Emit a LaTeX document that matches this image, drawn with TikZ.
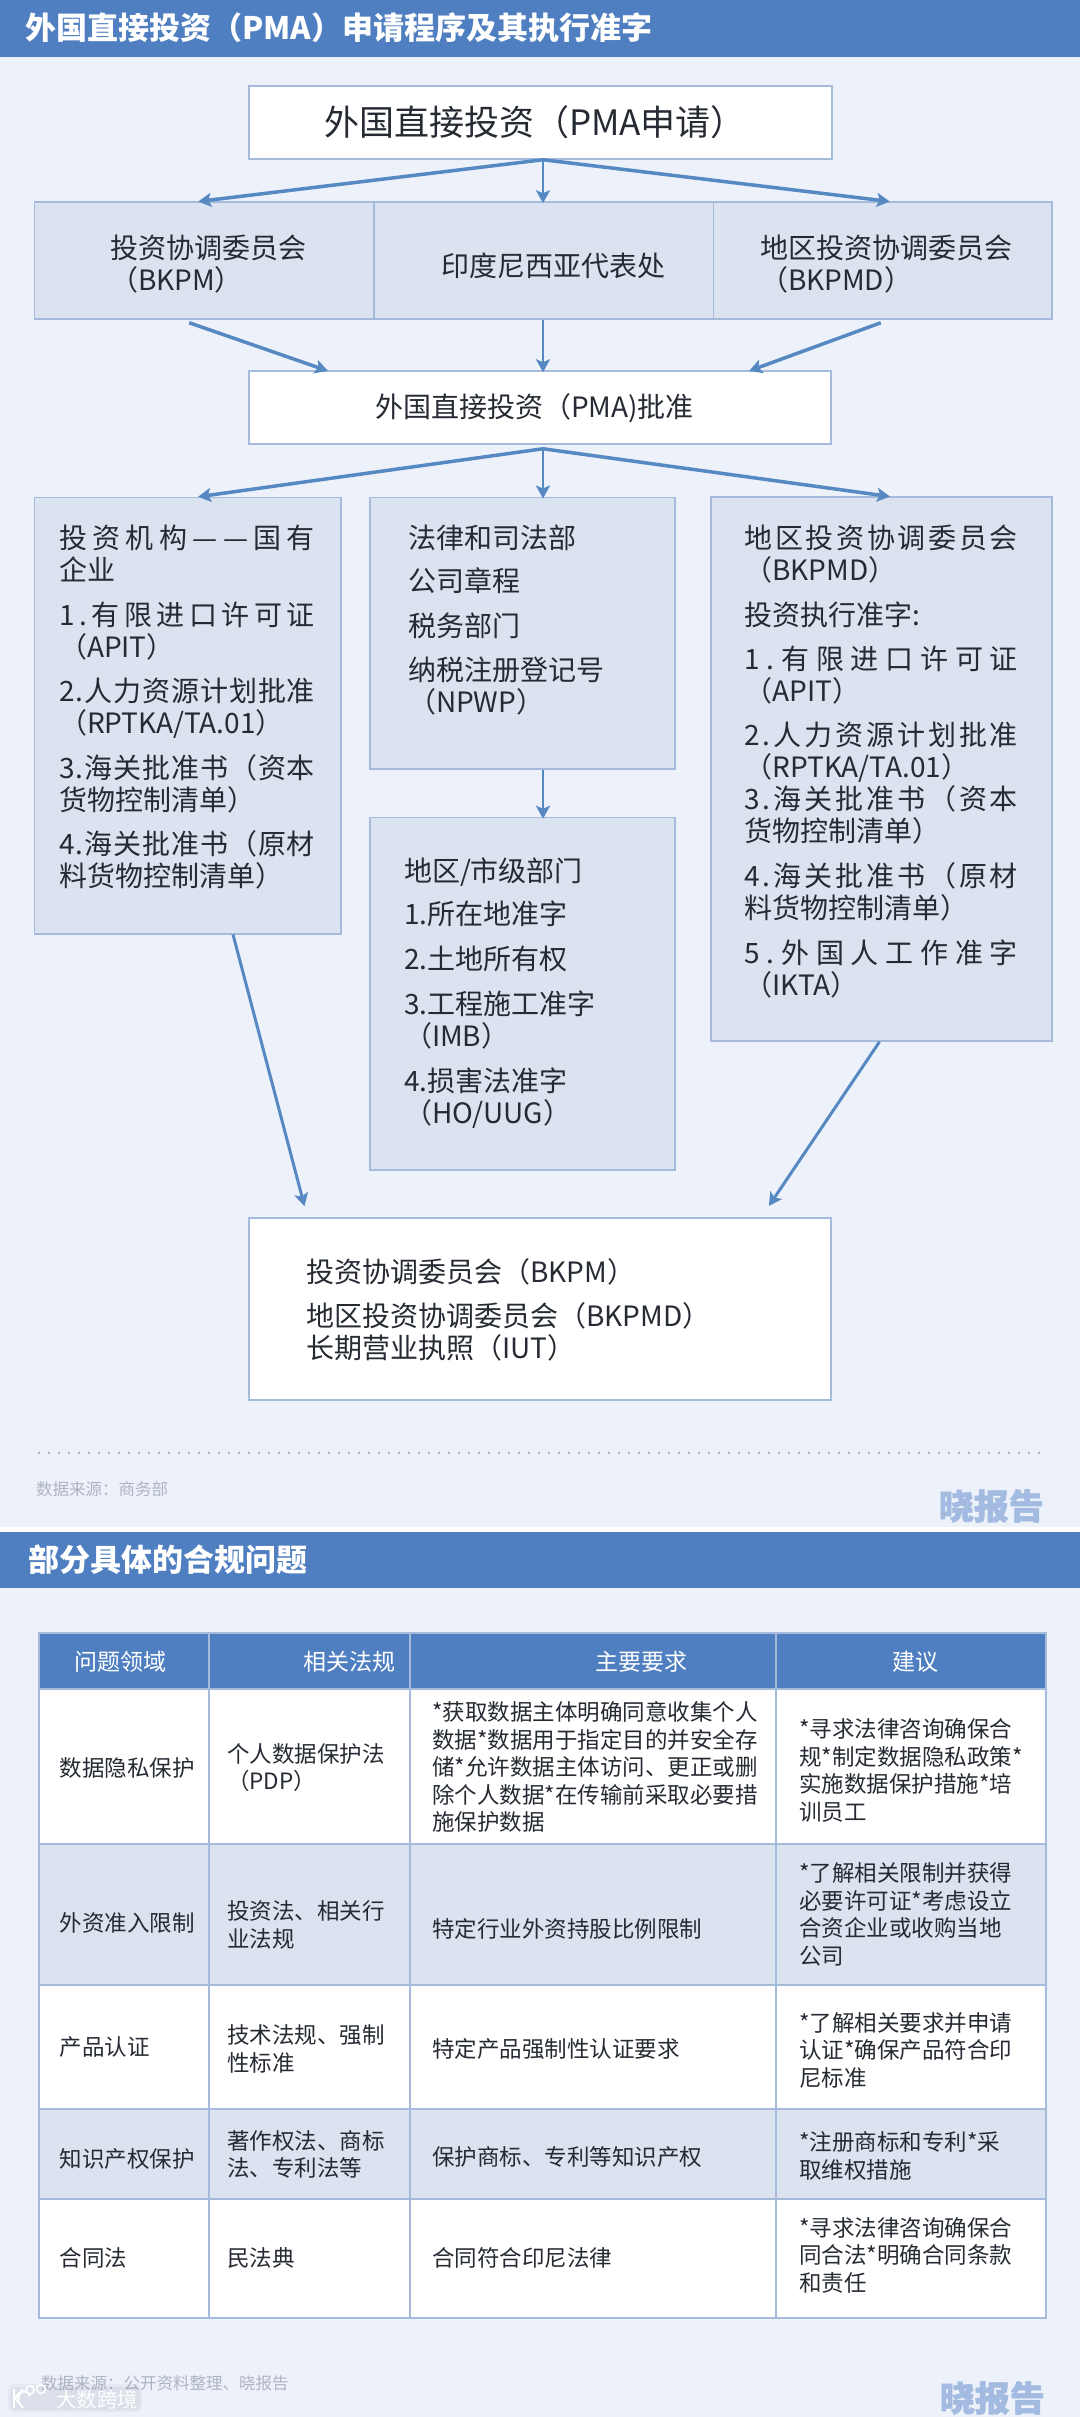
\documentclass[tikz,border=0pt]{standalone}
\usepackage{fontspec}
\setmainfont{Noto Sans CJK SC}
\usetikzlibrary{arrows.meta}
\definecolor{pagebg}{HTML}{EDF1FA}
\definecolor{band}{HTML}{4F7FC0}
\definecolor{cellbg}{HTML}{DBE3F1}
\definecolor{edge}{HTML}{A6BADC}
\definecolor{arrowc}{HTML}{5688C2}
\definecolor{ink}{HTML}{262B33}
\definecolor{srcgray}{HTML}{AEB4C2}
\definecolor{brandc}{HTML}{A3BBE0}
\definecolor{markshade}{HTML}{7C8494}
\newcommand{\fs}[2]{\lineskiplimit=-1000pt\fontsize{#1}{#2}\selectfont}
% spread the characters of a line over a given width
\def\jlA#1{#1\futurelet\jlN\jlB}
\def\jlB{\ifx\jlN\relax\let\jlC\relax\else\hfil\let\jlC\jlA\fi\jlC}
\newcommand{\jl}[2]{\hbox to #1pt{\jlA#2\relax}}
\tikzset{
  x=1pt,y=-1pt,
  whitebox/.style={draw=edge,line width=1.5pt,fill=white,inner sep=0pt,rectangle},
  bluebox/.style={draw=edge,line width=1.5pt,fill=cellbg,inner sep=0pt,rectangle},
  arrowline/.style={draw=arrowc,line width=3.5pt,-{Stealth[length=13pt,width=14pt,inset=3pt]},shorten >=-2pt},
  txt/.style={inner sep=0pt,outer sep=0pt,text=ink,anchor=west,font=\fs{28}{32}},
  block/.style={inner sep=0pt,outer sep=0pt,text=ink,anchor=north west,align=left,font=\fs{28}{32}},
  bandtitle/.style={inner sep=0pt,text=white,anchor=west,font=\fs{31}{36}\bfseries},
  headcell/.style={inner sep=0pt,text=white,font=\fs{23}{27}},
  cell/.style={inner sep=0pt,text=ink,anchor=west,align=left,font=\fs{22.5}{27.5}},
  srctxt/.style={inner sep=0pt,text=srcgray,anchor=west,font=\fs{16.5}{20}},
  brand/.style={inner sep=0pt,text=brandc,anchor=east,font=\fs{35}{38}\bfseries\addfontfeature{FakeBold=1.5}},
}
\begin{document}
\begin{tikzpicture}
\useasboundingbox (0,0) rectangle (1080,2417);
\fill[pagebg] (0,0) rectangle (1080,2417);
% ---------- section bands
\fill[band] (0,0) rectangle (1080,57);
\fill[white] (0,1527) rectangle (1080,1532);
\fill[band] (0,1532) rectangle (1080,1588);
\node[bandtitle] (title1) at (25,28) {外国直接投资（PMA）申请程序及其执行准字};
\node[bandtitle] (title2) at (28,1560) {部分具体的合规问题};
% ---------- flow boxes
\node[whitebox,minimum width=583pt,minimum height=73pt] (apply) at (540.5,122.5) {};
\node[bluebox,minimum width=339.5pt,minimum height=117pt] (bkpm) at (204.25,260.5) {};
\node[bluebox,minimum width=339.5pt,minimum height=117pt] (rep) at (543.75,260.5) {};
\node[bluebox,minimum width=338.5pt,minimum height=117pt] (bkpmd) at (882.75,260.5) {};
\node[whitebox,minimum width=582pt,minimum height=73pt] (approve) at (540,407.5) {};
\node[bluebox,minimum width=306.5pt,minimum height=436.5pt] (soe) at (187.75,715.5) {};
\node[bluebox,minimum width=305pt,minimum height=271.5pt] (legal) at (522.5,633) {};
\node[bluebox,minimum width=305pt,minimum height=352.5pt] (local) at (522.5,993.75) {};
\node[bluebox,minimum width=341pt,minimum height=544pt] (region) at (881.5,769) {};
\node[whitebox,minimum width=582pt,minimum height=182pt] (license) at (540,1309) {};
% ---------- connectors
\draw[arrowline] ([xshift=2.5pt]apply.south) -- ([xshift=-4pt]bkpm.north);
\draw[arrowline,line width=2.5pt] ([xshift=2.5pt]apply.south) -- ([xshift=-0.75pt]rep.north);
\draw[arrowline] ([xshift=2.5pt]apply.south) -- ([xshift=5pt]bkpmd.north);
\draw[arrowline] ([xshift=-15pt,yshift=-3pt]bkpm.south) -- ([xshift=-214pt]approve.north);
\draw[arrowline,line width=2.5pt] ([xshift=-0.75pt]rep.south) -- ([xshift=3pt]approve.north);
\draw[arrowline] ([xshift=-2pt,yshift=-3pt]bkpmd.south) -- ([xshift=211pt]approve.north);
\draw[arrowline] ([xshift=3pt,yshift=-4pt]approve.south) -- ([xshift=12.25pt]soe.north);
\draw[arrowline,line width=2.5pt] ([xshift=3pt,yshift=-4pt]approve.south) -- ([xshift=20.5pt]legal.north);
\draw[arrowline] ([xshift=3pt,yshift=-4pt]approve.south) -- ([xshift=6.5pt]region.north);
\draw[arrowline,line width=2.5pt] ([xshift=20.5pt]legal.south) -- ([xshift=20.5pt]local.north);
\draw[arrowline,line width=3pt] ([xshift=45.25pt]soe.south) -- ([xshift=-236pt,yshift=13pt]license.north);
\draw[arrowline,line width=3pt] ([xshift=-2pt]region.south) -- ([xshift=230pt,yshift=13pt]license.north);
% ---------- flow box texts
\node[txt,font=\fs{35}{40}] (applyt) at (324,122) {外国直接投资（PMA申请）};
\node[block] (bkpmt) at (110,235) {投资协调委员会\\（BKPM）};
\node[txt] (rept) at (441,266) {印度尼西亚代表处};
\node[block] (bkpmdt) at (760,235) {地区投资协调委员会\\（BKPMD）};
\node[txt] (approvet) at (375,408) {外国直接投资（PMA)批准};
\node[block] (soet) at (59,525) {\jl{256}{投资机构——国有}\\
企业\\[13pt]
\jl{256}{1.有限进口许可证}\\
（APIT）\\[12pt]
\jl{256}{2.人力资源计划批准}\\
（RPTKA/TA.01）\\[12.5pt]
\jl{256}{3.海关批准书（资本}\\
货物控制清单）\\[12.5pt]
\jl{256}{4.海关批准书（原材}\\
料货物控制清单）};
\node[block] (legalt) at (408,525) {法律和司法部\\[11pt]
公司章程\\[13pt]
税务部门\\[11.5pt]
纳税注册登记号\\
（NPWP）};
\node[block] (localt) at (404,858) {地区/市级部门\\[11pt]
1.所在地准字\\[13pt]
2.土地所有权\\[13pt]
3.工程施工准字\\
（IMB）\\[12.5pt]
4.损害法准字\\
（HO/UUG）};
\node[block] (regiont) at (744.5,525) {\jl{273.5}{地区投资协调委员会}\\
（BKPMD）\\[13pt]
投资执行准字:\\[11.5pt]
\jl{273.5}{1.有限进口许可证}\\
（APIT）\\[12.5pt]
\jl{273.5}{2.人力资源计划批准}\\
（RPTKA/TA.01）\\
\jl{273.5}{3.海关批准书（资本}\\
货物控制清单）\\[13pt]
\jl{273.5}{4.海关批准书（原材}\\
料货物控制清单）\\[12.5pt]
\jl{273.5}{5.外国人工作准字}\\
（IKTA）};
\node[block] (licenset) at (306.5,1259) {投资协调委员会（BKPM）\\[12pt]
地区投资协调委员会（BKPMD）\\
长期营业执照（IUT）};
% ---------- footer of first section
\draw[srcgray,line width=2pt,dash pattern=on 2pt off 8pt] (38,1453) -- (1041,1453);
\node[srctxt] (src1) at (36,1489) {数据来源：商务部};
\node[brand] (brand1) at (1044,1506) {晓报告};
% ---------- table
\fill[band] (38.5,1633) rectangle (1046,1689);
\fill[white] (38.5,1689) rectangle (1046,1844);
\fill[cellbg] (38.5,1844) rectangle (1046,1985);
\fill[white] (38.5,1985) rectangle (1046,2109);
\fill[cellbg] (38.5,2109) rectangle (1046,2199);
\fill[white] (38.5,2199) rectangle (1046,2318);
\draw[edge,line width=1.5pt] (209,1633) -- (209,2318) (410,1633) -- (410,2318) (776,1633) -- (776,2318);
\draw[edge,line width=2pt] (38.5,1633) rectangle (1046,2318);
\draw[edge,line width=2pt] (38.5,1689) -- (1046,1689) (38.5,1844) -- (1046,1844) (38.5,1985) -- (1046,1985) (38.5,2109) -- (1046,2109) (38.5,2199) -- (1046,2199);
\node[headcell] (h1) at (120.5,1662) {问题领域};
\node[headcell] (h2) at (349,1662) {相关法规};
\node[headcell] (h3) at (641.5,1662) {主要要求};
\node[headcell] (h4) at (915.5,1662) {建议};
% row 1
\node[cell] (a1) at (59.6,1768) {数据隐私保护};
\node[cell] (b1) at (227,1767.5) {个人数据保护法\\（PDP）};
\node[cell] (c1) at (432,1767) {*获取数据主体明确同意收集个人\\数据*数据用于指定目的并安全存\\储*允许数据主体访问、更正或删\\除个人数据*在传输前采取必要措\\施保护数据};
\node[cell] (d1) at (799,1770.5) {*寻求法律咨询确保合\\规*制定数据隐私政策*\\实施数据保护措施*培\\训员工};
% row 2
\node[cell] (a2) at (59.6,1923) {外资准入限制};
\node[cell] (b2) at (227,1925) {投资法、相关行\\业法规};
\node[cell] (c2) at (432,1929) {特定行业外资持股比例限制};
\node[cell] (d2) at (799,1914.5) {*了解相关限制并获得\\必要许可证*考虑设立\\合资企业或收购当地\\公司};
% row 3
\node[cell] (a3) at (59.6,2047) {产品认证};
\node[cell] (b3) at (227,2049) {技术法规、强制\\性标准};
\node[cell] (c3) at (432,2049) {特定产品强制性认证要求};
\node[cell] (d3) at (799,2050) {*了解相关要求并申请\\认证*确保产品符合印\\尼标准};
% row 4
\node[cell] (a4) at (59.6,2159) {知识产权保护};
\node[cell] (b4) at (227,2154.5) {著作权法、商标\\法、专利法等};
\node[cell] (c4) at (432,2157) {保护商标、专利等知识产权};
\node[cell] (d4) at (799,2156) {*注册商标和专利*采\\取维权措施};
% row 5
\node[cell] (a5) at (59.6,2258) {合同法};
\node[cell] (b5) at (227,2258) {民法典};
\node[cell] (c5) at (432,2258) {合同符合印尼法律};
\node[cell] (d5) at (799,2255) {*寻求法律咨询确保合\\同合法*明确合同条款\\和责任};
% ---------- footer of second section
\node[srctxt] (src2) at (41,2383) {数据来源：公开资料整理、晓报告};
\node[brand] (brand2) at (1045,2398) {晓报告};
% watermark: soft shade, logo strokes, white text
\fill[markshade,opacity=.07,rounded corners=6pt] (8,2384) rectangle (142,2412);
\fill[markshade,opacity=.09,rounded corners=5pt] (10,2387) rectangle (140,2410);
\draw[white,line width=2pt] (14,2389) -- (14,2408);
\draw[white,line width=2pt] (23,2389) -- (15,2398) -- (23,2408);
\draw[white,line width=2pt] (30,2396) arc[start angle=-20,end angle=-200,x radius=6pt,y radius=-7pt];
\draw[white,line width=1.6pt] (30,2390) circle[radius=4pt];
\draw[white,line width=1.6pt] (41,2389) circle[radius=4.5pt];
\node[inner sep=0pt,text=white,anchor=west,font=\fs{20.5}{25}] (mark) at (56,2400) {大数跨境};
\end{tikzpicture}
\end{document}
